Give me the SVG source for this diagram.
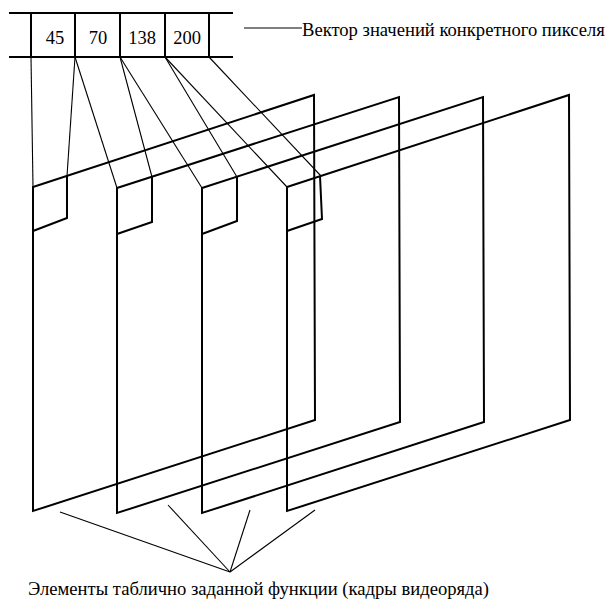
<svg xmlns="http://www.w3.org/2000/svg" width="609" height="599" viewBox="0 0 609 599">
<style>
.frame{fill:none;stroke:#000;stroke-width:2;stroke-linejoin:miter}
.tbl{stroke:#000;stroke-width:2;fill:none}
.conn{stroke:#000;stroke-width:1.1;fill:none}
.num{font-family:"Liberation Serif",serif;font-size:18.5px;text-anchor:middle;fill:#000}
.lbl{font-family:"Liberation Serif",serif;font-size:18.6px;fill:#000}
</style>
<rect width="609" height="599" fill="#fff"/>
<g id="vector">
<line class="tbl" x1="9" y1="13" x2="233" y2="13"/>
<line class="tbl" x1="9" y1="57" x2="233" y2="57"/>
<line class="tbl" x1="31" y1="13" x2="31" y2="57"/>
<line class="tbl" x1="75" y1="13" x2="75" y2="57"/>
<line class="tbl" x1="120" y1="13" x2="120" y2="57"/>
<line class="tbl" x1="165" y1="13" x2="165" y2="57"/>
<line class="tbl" x1="209" y1="13" x2="209" y2="57"/>
<text class="num" x="55" y="44">45</text>
<text class="num" x="98" y="44">70</text>
<text class="num" x="142" y="44">138</text>
<text class="num" x="187" y="44">200</text>
</g>
<g id="frame1">
<polygon class="frame" points="33,187 314,95 315,420 33,511"/>
<polyline class="frame" points="67,176 67,218 33,231"/>
</g>
<g id="frame2">
<polygon class="frame" points="117,188 399,97 400,422 117,513"/>
<polyline class="frame" points="152,177 152,222 117,234"/>
</g>
<g id="frame3">
<polygon class="frame" points="202,188 483,97 484,422 202,513"/>
<polyline class="frame" points="237,177 237,221 202,234"/>
</g>
<g id="frame4">
<polygon class="frame" points="287,187 569,95 570,420 287,511"/>
<polyline class="frame" points="320,176 322,219 287,231"/>
</g>
<g id="connectors">
<line class="conn" x1="31" y1="57" x2="33" y2="187"/>
<line class="conn" x1="75" y1="57" x2="67" y2="176"/>
<line class="conn" x1="75" y1="57" x2="117" y2="188"/>
<line class="conn" x1="120" y1="57" x2="152" y2="177"/>
<line class="conn" x1="120" y1="57" x2="202" y2="188"/>
<line class="conn" x1="165" y1="57" x2="237" y2="177"/>
<line class="conn" x1="165" y1="57" x2="287" y2="187"/>
<line class="conn" x1="209" y1="57" x2="321" y2="176"/>
<line class="conn" x1="244" y1="28" x2="302" y2="28"/>
<line class="conn" x1="230" y1="572" x2="60" y2="512"/>
<line class="conn" x1="230" y1="572" x2="168" y2="505"/>
<line class="conn" x1="230" y1="572" x2="250" y2="510"/>
<line class="conn" x1="230" y1="572" x2="315" y2="510"/>
</g>
<g id="labels">
<text class="lbl" x="302" y="36">Вектор значений конкретного пикселя</text>
<text class="lbl" x="28" y="595">Элементы таблично заданной функции (кадры видеоряда)</text>
</g>
</svg>
